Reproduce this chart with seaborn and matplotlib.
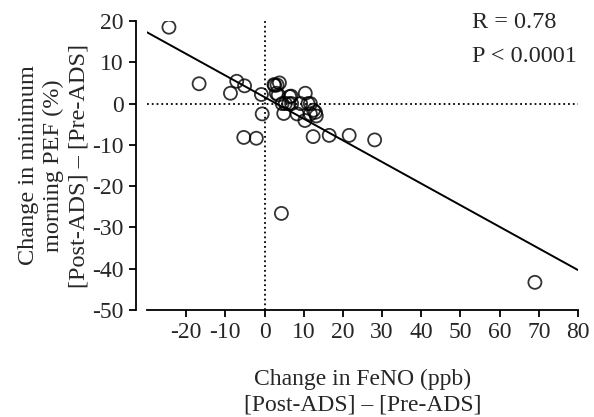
import matplotlib
matplotlib.use("Agg")
import matplotlib.pyplot as plt
import pandas as pd
import seaborn as sns

# change values
feno_change = [-24.4, -16.7, -8.7, -7.1, -5.1, -5.3, -2.1, -0.8, -0.6,
               2.4, 3.0, 3.2, 3.8, 2.6, 3.5, 6.4, 6.8, 10.4,
               4.5, 5.3, 6.2, 6.9, 9.2, 11.1, 11.7,
               4.9, 8.3, 10.3, 11.7, 12.5, 13.2, 13.0,
               4.3, 12.4, 16.5, 21.6, 28.1, 69.0]
pef_change = [18.5, 4.8, 2.5, 5.4, 4.3, -8.2, -8.4, 2.2, -2.5,
              4.6, 2.5, 4.5, 5.0, 4.4, 2.1, 1.7, 1.8, 2.5,
              0.0, 0.0, 0.0, 0.0, 0.0, 0.0, 0.0,
              -2.4, -2.5, -4.1, -2.5, -1.6, -3.0, -2.1,
              -26.6, -8.0, -7.7, -7.7, -8.8, -43.3]

df = pd.DataFrame({"feno": feno_change, "pef": pef_change})

x_ticks = list(range(-20, 81, 10))
y_ticks = list(range(-50, 21, 10))

sns.set_style("ticks")
plt.rcParams["font.family"] = ["Liberation Serif", "DejaVu Serif"]
plt.rcParams["font.size"] = 17

fig = plt.figure(figsize=(5.94, 4.17), dpi=100)
ax = fig.add_axes([147 / 594, 1 - 310 / 417, (578 - 147) / 594, (310 - 21) / 417])
ax.set_xlim(-30, 80)
ax.set_ylim(-50, 20)

# dotted zero lines
ax.axhline(0, color="black", ls=":", lw=1.3, zorder=1)
ax.axvline(0, color="black", ls=":", lw=1.3, zorder=1)

sns.regplot(data=df, x="feno", y="pef", ax=ax, ci=None, truncate=False,
            scatter_kws=dict(s=88, facecolors="none", edgecolors="black", linewidths=1.3),
            line_kws=dict(color="black", lw=1.4))

ax.set_xlim(-30, 80)
ax.set_ylim(-50, 20)
ax.set_xticks(x_ticks)
ax.set_yticks(y_ticks)
ax.set_xticklabels([str(t) for t in x_ticks])
ax.set_yticklabels([str(t) for t in y_ticks])
ax.tick_params(direction="out", length=5, width=1.3, color="black", labelsize=17, pad=4)

sns.despine(ax=ax)
ax.spines["left"].set_position(("outward", 8))
for s in ["left", "bottom"]:
    ax.spines[s].set_linewidth(1.3)
    ax.spines[s].set_color("black")

ax.set_xlabel("Change in FeNO (ppb)\n[Post-ADS] \u2013 [Pre-ADS]", fontsize=17, labelpad=18,
              linespacing=1.3)
ax.set_ylabel("Change in minimum\nmorning PEF (%)\n[Post-ADS] \u2013 [Pre-ADS]", fontsize=17.5, labelpad=2,
              linespacing=1.25)

ax.text((472 - 147) / 431, (310 - 22) / 289, "R = 0.78", transform=ax.transAxes,
        ha="left", va="center", fontsize=17.5)
ax.text((472 - 147) / 431, (310 - 56) / 289, "P < 0.0001", transform=ax.transAxes,
        ha="left", va="center", fontsize=17.5)

fig.savefig("out.png", dpi=100)
